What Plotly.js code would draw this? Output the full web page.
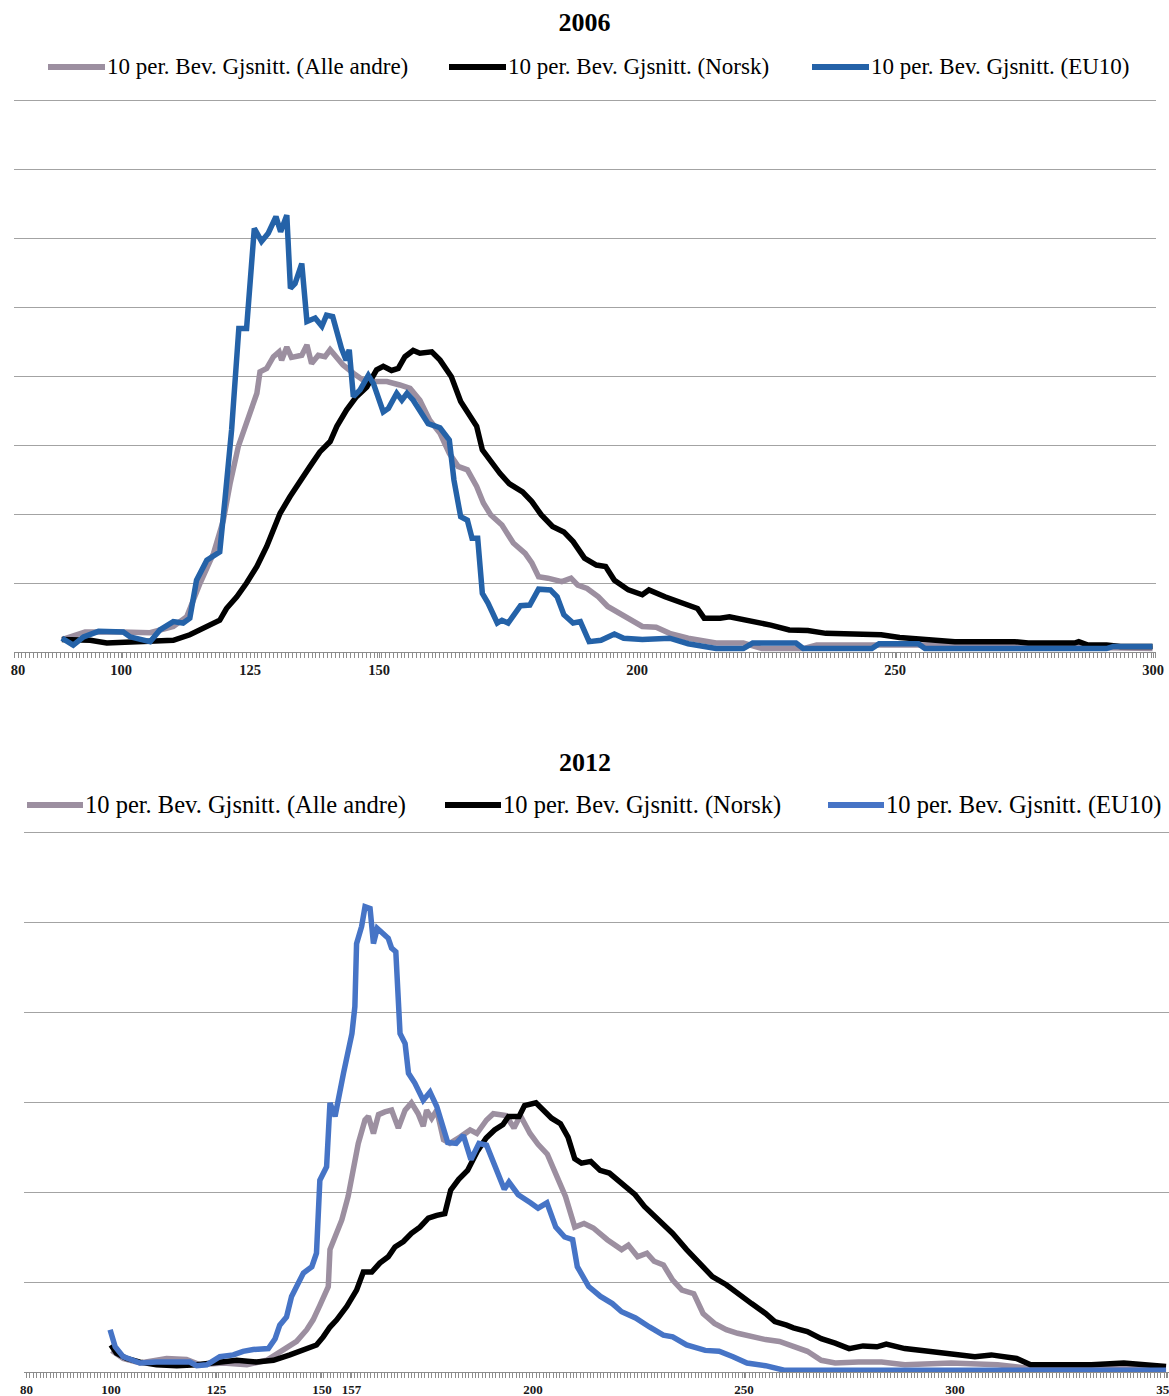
<!DOCTYPE html>
<html>
<head>
<meta charset="utf-8">
<script src="https://cdn.plot.ly/plotly-3.0.1.min.js"></script>
<style>html,body{margin:0;padding:0;background:#fff}</style>
</head>
<body>
<div id="chart" style="width:1169px;height:1396px"></div>
<script>
// ---------- names / titles / ticks ----------
const seriesNames = ['10 per. Bev. Gjsnitt. (Alle andre)', '10 per. Bev. Gjsnitt. (Norsk)', '10 per. Bev. Gjsnitt. (EU10)'];
const title2006 = '2006';
const title2012 = '2012';
const ticks2006 = [80, 100, 125, 150, 200, 250, 300];
const ticks2012 = [80, 100, 125, 150, 157, 200, 250, 300, 350];

// ---------- 2006 ----------
const alleX2006 = [88.5, 93, 100, 105.6, 110.1, 112.7, 115.3, 117.9, 119.8, 121.1, 122.7, 124.0, 125.3, 126.3, 126.9, 128.2, 129.5, 130.6, 131.1, 132.1, 133.0, 135.0, 136.0, 136.9, 138.2, 139.5, 140.5, 141.8, 143.0, 145.0, 146.9, 148.9, 151.5, 154.0, 156.0, 157.9, 159.8, 161.8, 163.6, 165.3, 167.1, 168.9, 170.2, 171.6, 173.8, 176.0, 178.3, 179.6, 180.9, 182.7, 185.4, 187.2, 188.5, 190.3, 192.5, 194.3, 197.0, 199.2, 201.0, 203.7, 206.3, 209.9, 215.3, 220.6, 224.2, 232.2, 234.8, 259.8, 273.2, 299.9];
const alleY2006 = [0.18, 0.29, 0.29, 0.28, 0.37, 0.51, 1.0, 1.43, 1.91, 2.44, 2.98, 3.27, 3.56, 3.75, 4.06, 4.11, 4.28, 4.35, 4.23, 4.42, 4.27, 4.30, 4.45, 4.18, 4.30, 4.28, 4.38, 4.28, 4.16, 4.04, 3.94, 3.92, 3.92, 3.87, 3.82, 3.65, 3.36, 3.17, 2.88, 2.69, 2.64, 2.40, 2.16, 1.99, 1.84, 1.58, 1.43, 1.29, 1.09, 1.07, 1.02, 1.07, 0.97, 0.92, 0.80, 0.66, 0.54, 0.46, 0.37, 0.36, 0.27, 0.20, 0.13, 0.13, 0.05, 0.05, 0.10, 0.10, 0.08, 0.05];

const norskX2006 = [88.5, 94.0, 97.2, 103.6, 110.1, 113.3, 116.6, 119.1, 120.4, 122.4, 124.3, 126.3, 128.2, 129.5, 130.8, 132.7, 134.7, 136.6, 138.5, 140.5, 141.8, 143.7, 145.6, 147.6, 149.5, 150.8, 152.4, 153.7, 155.0, 156.6, 157.9, 159.2, 160.2, 161.8, 164.0, 165.8, 167.6, 168.9, 170.0, 171.6, 173.4, 175.2, 177.8, 179.6, 181.4, 183.6, 185.8, 187.6, 189.8, 192.1, 193.9, 195.6, 198.3, 201.0, 202.3, 205.4, 208.1, 211.7, 213.0, 216.1, 217.9, 223.3, 225.9, 229.5, 233.1, 236.6, 242.0, 247.3, 250.9, 256.2, 261.6, 273.2, 275.8, 284.8, 285.6, 287.4, 291.0, 293.7, 299.9];
const norskY2006 = [0.18, 0.17, 0.13, 0.15, 0.17, 0.25, 0.37, 0.46, 0.63, 0.80, 1.00, 1.24, 1.53, 1.77, 2.01, 2.25, 2.49, 2.69, 2.90, 3.05, 3.27, 3.51, 3.70, 3.84, 4.09, 4.14, 4.08, 4.11, 4.28, 4.37, 4.33, 4.35, 4.35, 4.23, 3.99, 3.63, 3.41, 3.27, 2.93, 2.76, 2.59, 2.44, 2.32, 2.18, 1.99, 1.82, 1.74, 1.60, 1.36, 1.26, 1.24, 1.04, 0.90, 0.83, 0.90, 0.80, 0.73, 0.63, 0.49, 0.49, 0.51, 0.44, 0.39, 0.32, 0.31, 0.27, 0.26, 0.25, 0.21, 0.18, 0.15, 0.15, 0.13, 0.13, 0.15, 0.10, 0.10, 0.08, 0.08];

const eu10X2006 = [88.5, 90.7, 92.7, 95.6, 100.4, 101.7, 105.6, 107.5, 110.1, 112.0, 113.3, 114.6, 116.6, 119.1, 120.1, 121.1, 121.4, 122.8, 124.3, 125.8, 127.2, 128.5, 130.0, 130.9, 132.1, 132.8, 133.7, 135.0, 136.0, 137.6, 138.9, 139.8, 141.0, 142.7, 143.6, 144.2, 145.0, 146.3, 147.9, 148.9, 150.8, 151.8, 153.4, 154.4, 155.4, 156.6, 157.9, 159.5, 161.8, 163.6, 164.5, 165.8, 167.1, 168.0, 169.1, 170.0, 171.1, 172.9, 173.8, 175.0, 177.4, 179.2, 180.9, 183.2, 184.5, 185.8, 187.6, 189.0, 190.7, 193.0, 195.6, 197.4, 201.0, 206.3, 209.9, 215.3, 220.6, 222.4, 230.8, 232.2, 245.5, 246.9, 254.5, 255.8, 291.0, 292.3, 299.9];
const eu10Y2006 = [0.20, 0.10, 0.22, 0.30, 0.29, 0.22, 0.15, 0.32, 0.44, 0.42, 0.49, 1.04, 1.33, 1.45, 2.20, 3.07, 3.22, 4.69, 4.69, 6.14, 5.95, 6.07, 6.31, 6.09, 6.33, 5.27, 5.34, 5.63, 4.79, 4.84, 4.72, 4.88, 4.86, 4.40, 4.23, 4.38, 3.70, 3.80, 4.01, 3.89, 3.48, 3.53, 3.75, 3.65, 3.75, 3.65, 3.51, 3.31, 3.25, 3.07, 2.49, 1.96, 1.91, 1.65, 1.65, 0.85, 0.71, 0.42, 0.46, 0.42, 0.67, 0.68, 0.91, 0.90, 0.80, 0.54, 0.42, 0.44, 0.15, 0.17, 0.26, 0.20, 0.18, 0.20, 0.12, 0.05, 0.05, 0.13, 0.13, 0.05, 0.05, 0.12, 0.12, 0.05, 0.05, 0.08, 0.08];

// ---------- 2012 ----------
const alleX2012 = [100.2, 102.9, 106.9, 113.2, 117.9, 121.1, 126.6, 132.2, 136.9, 140.8, 144.0, 146.4, 147.9, 149.5, 150.3, 151.5, 151.9, 153.1, 154.7, 156.2, 157.4, 158.6, 160.2, 161.0, 162.2, 163.4, 164.9, 166.5, 168.1, 169.7, 171.2, 172.8, 174.0, 174.8, 176.0, 177.2, 178.8, 180.3, 182.7, 185.1, 186.7, 189.0, 190.6, 193.6, 195.5, 197.0, 198.5, 199.3, 201.2, 203.4, 205.5, 207.7, 209.9, 212.1, 214.3, 217.6, 221.0, 222.6, 224.8, 227.0, 228.7, 230.9, 233.1, 235.3, 238.1, 240.3, 243.0, 245.8, 248.5, 251.8, 255.1, 258.4, 261.7, 265.0, 268.3, 271.6, 277.1, 282.6, 288.1, 299.1, 310.1, 317.9, 350];
const alleY2012 = [0.24, 0.15, 0.10, 0.15, 0.14, 0.08, 0.10, 0.08, 0.13, 0.24, 0.34, 0.47, 0.58, 0.74, 0.84, 0.95, 1.36, 1.49, 1.69, 1.95, 2.24, 2.54, 2.80, 2.84, 2.65, 2.86, 2.89, 2.91, 2.71, 2.91, 2.99, 2.87, 2.73, 2.91, 2.82, 2.91, 2.58, 2.54, 2.61, 2.69, 2.65, 2.80, 2.87, 2.85, 2.71, 2.85, 2.72, 2.65, 2.53, 2.42, 2.19, 1.95, 1.61, 1.65, 1.60, 1.47, 1.36, 1.41, 1.28, 1.32, 1.23, 1.19, 1.02, 0.91, 0.87, 0.65, 0.54, 0.47, 0.43, 0.39, 0.36, 0.34, 0.28, 0.23, 0.13, 0.10, 0.11, 0.11, 0.08, 0.10, 0.08, 0.04, 0.04];

const norskX2012 = [100, 101.3, 103.7, 106.9, 110.8, 115.6, 120.3, 125.0, 129.8, 134.5, 138.5, 142.4, 145.6, 148.7, 150.3, 151.9, 153.5, 155.9, 158.2, 159.8, 161.8, 163.7, 165.7, 167.3, 169.3, 171.2, 173.2, 175.2, 177.2, 179.1, 180.5, 182.4, 184.5, 186.9, 188.9, 190.9, 192.9, 194.2, 196.7, 198.0, 200.7, 202.6, 204.4, 206.5, 208.3, 209.9, 211.5, 213.7, 215.9, 218.1, 220.9, 224.2, 226.4, 229.7, 233.1, 236.4, 239.7, 242.5, 245.8, 248.5, 251.8, 255.1, 257.3, 260.1, 261.7, 265.0, 268.3, 271.6, 274.9, 278.2, 281.5, 283.7, 288.1, 293.7, 299.2, 304.7, 308.6, 314.6, 317.9, 332.3, 340.0, 348.8, 350];
const norskY2012 = [0.30, 0.21, 0.15, 0.11, 0.08, 0.07, 0.08, 0.10, 0.13, 0.11, 0.13, 0.19, 0.24, 0.30, 0.39, 0.50, 0.58, 0.73, 0.91, 1.11, 1.11, 1.21, 1.28, 1.39, 1.45, 1.54, 1.61, 1.71, 1.74, 1.76, 2.02, 2.14, 2.24, 2.46, 2.60, 2.69, 2.75, 2.84, 2.84, 2.96, 2.99, 2.91, 2.82, 2.76, 2.61, 2.37, 2.32, 2.34, 2.24, 2.21, 2.10, 1.97, 1.84, 1.69, 1.54, 1.36, 1.19, 1.06, 0.97, 0.87, 0.76, 0.65, 0.56, 0.52, 0.49, 0.45, 0.37, 0.32, 0.26, 0.29, 0.28, 0.31, 0.26, 0.23, 0.20, 0.17, 0.19, 0.15, 0.08, 0.08, 0.10, 0.06, 0.06];

const eu10X2012 = [99.8, 101.0, 102.9, 106.9, 110.8, 114.8, 118.7, 120.3, 122.7, 125.8, 129.0, 131.3, 133.7, 137.3, 138.9, 140.0, 141.6, 142.8, 144.3, 145.6, 147.6, 148.7, 149.5, 151.1, 151.9, 153.1, 155.1, 157.1, 157.8, 158.2, 159.4, 160.2, 161.4, 162.2, 163.1, 164.5, 165.7, 166.5, 167.5, 168.5, 169.7, 170.5, 172.0, 174.0, 175.6, 177.2, 178.8, 179.8, 181.8, 183.5, 185.3, 187.2, 189.0, 190.6, 193.2, 194.3, 196.5, 199.4, 201.2, 203.3, 205.4, 207.5, 209.4, 210.5, 213.2, 216.0, 218.8, 221.0, 224.3, 227.6, 230.9, 233.1, 236.4, 240.8, 244.1, 247.4, 250.7, 255.1, 259.5, 350];
const eu10Y2012 = [0.47, 0.28, 0.17, 0.10, 0.11, 0.11, 0.11, 0.07, 0.08, 0.17, 0.19, 0.23, 0.25, 0.26, 0.37, 0.52, 0.61, 0.84, 0.99, 1.10, 1.17, 1.32, 2.13, 2.28, 2.99, 2.84, 3.32, 3.76, 4.06, 4.76, 4.95, 5.17, 5.15, 4.76, 4.93, 4.86, 4.82, 4.71, 4.67, 3.76, 3.65, 3.32, 3.21, 3.02, 3.11, 2.95, 2.73, 2.55, 2.54, 2.63, 2.36, 2.54, 2.52, 2.32, 2.03, 2.11, 1.97, 1.88, 1.82, 1.88, 1.61, 1.50, 1.47, 1.17, 0.95, 0.84, 0.76, 0.67, 0.60, 0.50, 0.41, 0.39, 0.30, 0.24, 0.23, 0.17, 0.10, 0.07, 0.02, 0.02];

// ---------- styling ----------
const W = 1169, H = 1396;
const serif = 'Liberation Serif, Times New Roman, serif';
const colAlle = '#9c8fa0';
const colNorsk = '#000000';
const colEu06 = '#2462a8';
const colEu12 = '#4674c6';
const lw = 5.5;
const py = p => 1 - p / H;
const px = p => p / W;

function tr(x, y, name, color, xa, ya) {
  return {type: 'scatter', mode: 'lines', x: x, y: y, name: name,
    line: {color: color, width: lw, shape: 'linear'},
    xaxis: xa, yaxis: ya, showlegend: false, hoverinfo: 'x+y'};
}

const data = [
  tr(alleX2006, alleY2006, seriesNames[0], colAlle, 'x', 'y'),
  tr(norskX2006, norskY2006, seriesNames[1], colNorsk, 'x', 'y'),
  tr(eu10X2006, eu10Y2006, seriesNames[2], colEu06, 'x', 'y'),
  tr(alleX2012, alleY2012, seriesNames[0], colAlle, 'x2', 'y2'),
  tr(norskX2012, norskY2012, seriesNames[1], colNorsk, 'x2', 'y2'),
  tr(eu10X2012, eu10Y2012, seriesNames[2], colEu12, 'x2', 'y2')
];

function xAxis(domain, range, ticks, dtickMinor, fsize, anchor) {
  return {domain: domain, range: range, anchor: anchor,
    tickmode: 'array', tickvals: ticks, ticktext: ticks.map(String),
    ticks: 'outside', ticklen: 5, tickcolor: '#8c8c8c', tickwidth: 1,
    ticklabeloverflow: 'allow',
    showline: true, linecolor: '#8c8c8c', linewidth: 1,
    showgrid: false, zeroline: false,
    tickfont: {family: serif, size: fsize, color: '#1a1a1a', weight: 'bold'},
    minor: {tickmode: 'linear', tick0: 80, dtick: dtickMinor, ticks: 'outside', ticklen: 5, tickcolor: '#8c8c8c', tickwidth: 1, showgrid: false},
    fixedrange: true};
}
function yAxis(domain, range, anchor) {
  return {domain: domain, range: range, anchor: anchor, dtick: 1, tick0: 0,
    showgrid: true, gridcolor: '#a3a3a3', gridwidth: 1,
    showticklabels: false, ticks: '', zeroline: false, showline: false, fixedrange: true};
}

// ---------- hand-placed legends (sample line + label) ----------
const legendColors2006 = [colAlle, colNorsk, colEu06];
const legendColors2012 = [colAlle, colNorsk, colEu12];
const legend2006Pos = [48, 449, 812];   // sample line start, px
const legend2012Pos = [27, 445, 828];
const shapes = [];
const annotations = [];
function addLegend(pos, colors, yPx, fsize, sampleLen) {
  pos.forEach((x0, i) => {
    shapes.push({type: 'line', xref: 'paper', yref: 'paper',
      x0: px(x0), x1: px(x0 + sampleLen), y0: py(yPx), y1: py(yPx),
      line: {color: colors[i], width: 6}});
    annotations.push({text: seriesNames[i], xref: 'paper', yref: 'paper',
      x: px(x0 + sampleLen + 1), y: py(yPx), xanchor: 'left', yanchor: 'middle',
      showarrow: false, borderpad: 0, font: {family: serif, size: fsize, color: '#000'}});
  });
}
addLegend(legend2006Pos, legendColors2006, 67, 23, 57);
addLegend(legend2012Pos, legendColors2012, 805, 24.5, 56);

annotations.push({text: '<b>' + title2012 + '</b>', xref: 'paper', yref: 'paper', x: 0.5, y: py(762),
  xanchor: 'center', yanchor: 'middle', showarrow: false, font: {family: serif, size: 26, color: '#000'}});

const layout = {
  width: W, height: H,
  margin: {l: 0, r: 0, t: 0, b: 0},
  paper_bgcolor: '#ffffff', plot_bgcolor: '#ffffff',
  showlegend: false,
  title: {text: '<b>' + title2006 + '</b>', x: 0.5, xanchor: 'center', xref: 'paper',
    y: py(22), yanchor: 'middle', yref: 'container', font: {family: serif, size: 26, color: '#000'}},
  xaxis: xAxis([px(14), px(1156)], [79.22, 300.58], ticks2006, 0.75, 14.5, 'y'),
  yaxis: yAxis([py(652), py(96)], [0, 8 + 4 / 69], 'x'),
  xaxis2: xAxis([px(24), 1], [79.4, 350.7], ticks2012, 0.8, 13, 'y2'),
  yaxis2: yAxis([py(1372), py(829)], [0, 543 / 90], 'x2'),
  shapes: shapes,
  annotations: annotations
};

Plotly.newPlot('chart', data, layout, {displayModeBar: false, staticPlot: true});
</script>
</body>
</html>
